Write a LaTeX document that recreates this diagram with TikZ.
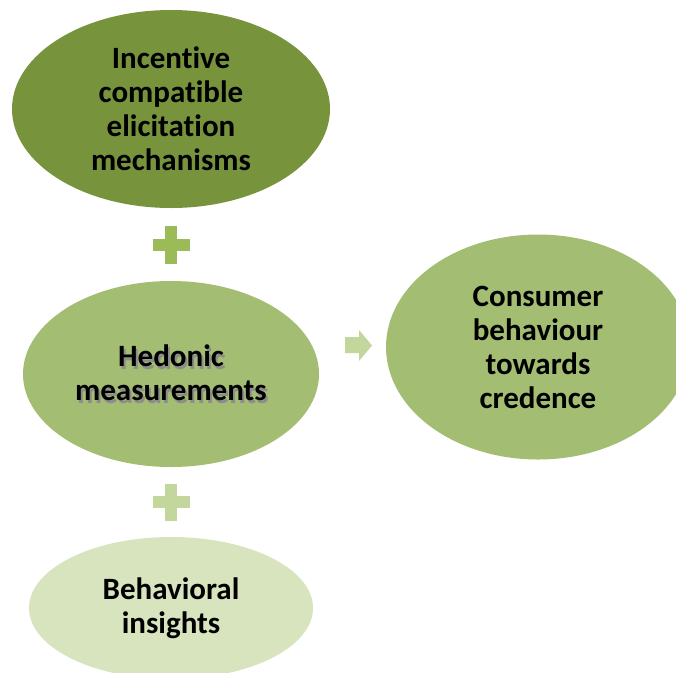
\documentclass[tikz,border=0pt]{standalone}
\usepackage{fontspec}
\setmainfont{Carlito}[Ligatures=NoCommon]
\usetikzlibrary{shapes.geometric}
\definecolor{darkolive}{HTML}{77933C}
\definecolor{midgreen}{HTML}{A3BE72}
\definecolor{plusgreen}{HTML}{9BBB59}
\definecolor{palegreen}{HTML}{C3D69B}
\definecolor{lightgreen}{HTML}{D7E4BD}
\newcommand{\shadowtxt}[1]{\makebox[0pt][l]{\kern2pt\raisebox{-2.5pt}{\textcolor{black!45}{#1}}}#1}
\tikzset{
  oval/.style={ellipse, inner sep=0pt, draw=none, align=center,
    font=\fontsize{31}{34}\selectfont\bfseries, text=black},
}
\begin{document}
\begin{tikzpicture}[x=1pt,y=-1pt]
\useasboundingbox (0,0) rectangle (676,672);
\clip (0,0) rectangle (676,672);
\fill[white] (0,0) rectangle (676,672);
% ellipses
\node[oval, fill=darkolive, minimum width=318pt, minimum height=198pt] (inc) at (171,109)
  {Incentive\\compatible\\elicitation\\mechanisms};
\node[oval, fill=midgreen, minimum width=296pt, minimum height=186pt] (hed) at (171,374)
  {\shadowtxt{Hedonic}\\\shadowtxt{measurements}};
\node[oval, fill=midgreen, minimum width=304pt, minimum height=225pt] (con) at (538,347)
  {Consumer\\behaviour\\towards\\credence};
\node[oval, fill=lightgreen, minimum width=284pt, minimum height=142pt] (beh) at (171,608)
  {Behavioral\\insights};
% plus signs
\fill[plusgreen] (153,239) rectangle (190,251);
\fill[plusgreen] (165,226) rectangle (177,264);
\fill[palegreen] (153,496) rectangle (190,508);
\fill[palegreen] (165,484) rectangle (177,521);
% arrow
\fill[palegreen] (345,337) -- (359,337) -- (359,330) -- (372,345.5) -- (359,361) -- (359,353) -- (345,353) -- cycle;
\end{tikzpicture}
\end{document}
